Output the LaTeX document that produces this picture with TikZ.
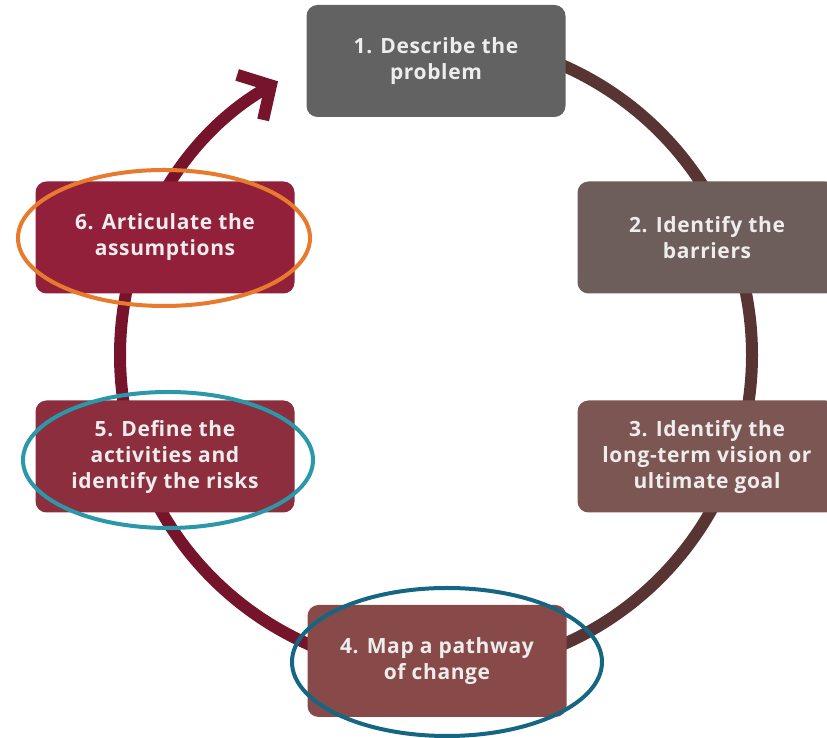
\documentclass[tikz,border=0pt]{standalone}
\usepackage{fontspec}
\setmainfont{Open Sans}[LetterSpace=3]
\usetikzlibrary{arrows.meta}
\definecolor{cA}{RGB}{98,98,98}
\definecolor{cB}{RGB}{110,94,91}
\definecolor{cC}{RGB}{124,86,82}
\definecolor{cD}{RGB}{136,74,72}
\definecolor{cE}{RGB}{140,46,62}
\definecolor{cF}{RGB}{147,32,58}
\definecolor{ringR}{RGB}{88,52,50}
\definecolor{ringL}{RGB}{118,20,44}
\definecolor{hlOrange}{RGB}{232,122,46}
\definecolor{hlTeal}{RGB}{42,152,168}
\definecolor{hlDark}{RGB}{20,102,130}
\definecolor{txt}{RGB}{238,236,236}
\begin{document}
\begin{tikzpicture}[x=1pt,y=1pt,
  stepbox/.style={rounded corners=11pt, minimum width=259pt, minimum height=112pt,
    text=txt, align=center, inner sep=0pt,
    font=\fontsize{21}{26}\selectfont\bfseries},
  ring/.style={line width=12pt},
  hl/.style={line width=4pt}]
\useasboundingbox (0,0) rectangle (827,738);
\clip (0,0) rectangle (827,738);
\coordinate (c) at (436,383);
% ring
\draw[ring, ringR] (c) ++(90:316) arc[start angle=90, end angle=-90, radius=316];
\draw[ring, ringL, -{Straight Barb[length=24pt,width=52pt,line width=12pt]}]
  (c) ++(270:316) arc[start angle=270, end angle=120, radius=316] coordinate (tip);
% boxes
\node[stepbox, fill=cA] (s1) at (436,677) {1. Describe the\\problem};
\node[stepbox, fill=cB] (s2) at (707,500.5) {2. Identify the\\barriers};
\node[stepbox, fill=cC] (s3) at (707,281.5) {3. Identify the\\long-term vision or\\ultimate goal};
\node[stepbox, fill=cD] (s4) at (437,77) {4. Map a pathway\\of change};
\node[stepbox, fill=cE] (s5) at (165,281.5) {5. Define the\\activities and\\identify the risks};
\node[stepbox, fill=cF] (s6) at (165,500.5) {6. Articulate the\\assumptions};
% highlight ellipses
\draw[hl, hlOrange] (s6.center) ++(-1,-0.5) ellipse[x radius=146, y radius=68];
\draw[hl, hlTeal] (s5.center) ++(3,-3.5) ellipse[x radius=145, y radius=68];
\draw[hl, hlDark] (s4.center) ++(10,-1) ellipse[x radius=155, y radius=74];
\end{tikzpicture}
\end{document}
